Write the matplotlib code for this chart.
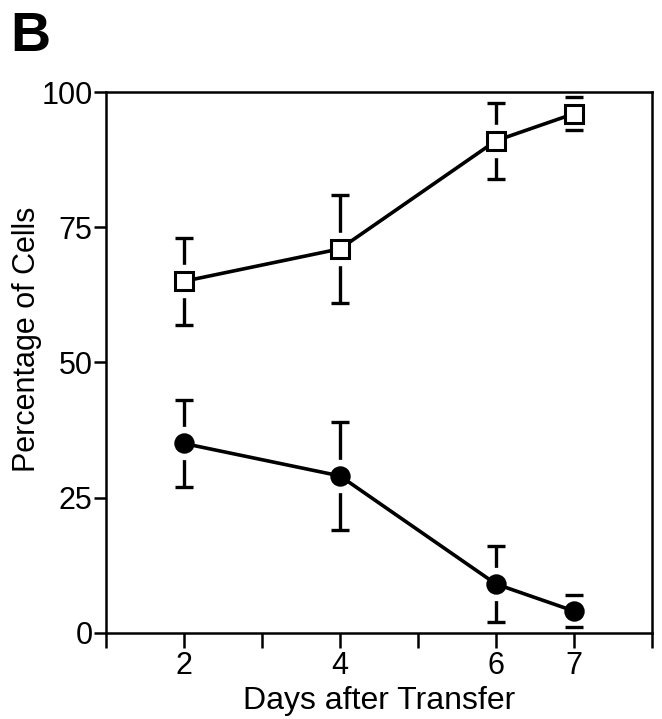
import matplotlib
matplotlib.use("Agg")
import matplotlib.pyplot as plt

days = [2, 4, 6, 7]
open_vals = [65, 71, 91, 96]
open_err = [8, 10, 7, 3]
filled_vals = [35, 29, 9, 4]
filled_err = [8, 10, 7, 3]

plt.rcParams["font.family"] = ["Liberation Sans", "DejaVu Sans"]

fig = plt.figure(figsize=(6.62, 7.19), dpi=100)
ax = fig.add_axes([0.160, 0.12, 0.825, 0.752])

for vals, err, mk, face in [(open_vals, open_err, "s", "white"),
                            (filled_vals, filled_err, "o", "black")]:
    _, caps, _ = ax.errorbar(days, vals, yerr=err, fmt="none", ecolor="black",
                             elinewidth=2.4, capsize=6.8, capthick=2.4, zorder=1)
    for c in caps:
        c.set_zorder(5)
    # white halo so whiskers stop short of the marker
    ax.plot(days, vals, linestyle="none", marker=mk, markersize=23,
            markerfacecolor="white", markeredgecolor="white", zorder=2)
    ax.plot(days, vals, color="black", linewidth=2.6, zorder=3)
    ax.plot(days, vals, linestyle="none", marker=mk, markersize=12.5,
            markerfacecolor=face, markeredgecolor="black",
            markeredgewidth=2.2, zorder=4)

ax.set_xlim(1, 8)
ax.set_ylim(0, 100)
ax.set_xticks([2, 4, 6, 7])
ax.set_xticks([1, 3, 5, 8], minor=True)
ax.set_yticks([0, 25, 50, 75, 100])
ax.tick_params(axis="both", which="both", direction="out", width=1.8,
               labelsize=22, color="black")
ax.tick_params(axis="x", which="both", length=10.5, pad=3)
ax.tick_params(axis="y", length=8.5, pad=1)
for s in ax.spines.values():
    s.set_linewidth(1.8)

ax.set_xlabel("Days after Transfer", fontsize=23, labelpad=3)
ax.set_ylabel("Percentage of Cells", fontsize=22)
ax.yaxis.set_label_coords(-0.117, 0.543)

fig.text(0.015, 0.985, "B", fontsize=40, fontweight="bold", va="top", ha="left")

fig.savefig("out.png", dpi=100)
